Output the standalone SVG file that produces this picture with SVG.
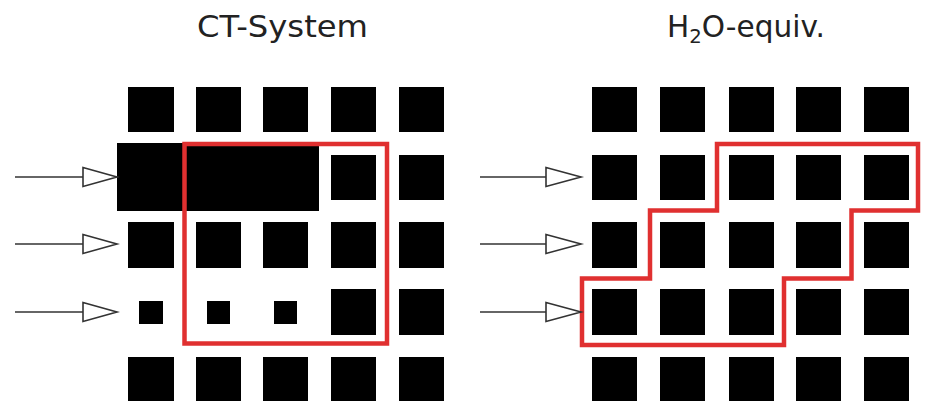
<svg xmlns="http://www.w3.org/2000/svg" width="926" height="401" viewBox="0 0 926 401">
<style>
.t{font-family:"DejaVu Sans","Liberation Sans",sans-serif;font-size:30px;fill:#222}
.b{fill:#000}
.red{fill:none;stroke:#e03030;stroke-width:4.5}
.ln{stroke:#333;stroke-width:1.6;fill:none}
.ah{fill:#fff;stroke:#333;stroke-width:1.6;stroke-linejoin:miter}
</style>
<rect width="926" height="401" fill="#fff"/>
<g id="title-ct"><text class="t" x="197" y="37" textLength="171" lengthAdjust="spacingAndGlyphs">CT-System</text></g>
<g id="title-h2o"><text class="t" x="667" y="37" textLength="158" lengthAdjust="spacingAndGlyphs">H<tspan font-size="20" dy="6">2</tspan><tspan dy="-6">O-equiv.</tspan></text></g>
<g id="ct-grid">
<rect class="b" x="128" y="87" width="46" height="45"/><rect class="b" x="196" y="87" width="45" height="45"/><rect class="b" x="263" y="87" width="45" height="45"/><rect class="b" x="331" y="87" width="45" height="45"/><rect class="b" x="399" y="87" width="45" height="45"/>
<rect class="b" x="117" y="143" width="202" height="68"/><rect class="b" x="331" y="155" width="45" height="45"/><rect class="b" x="399" y="155" width="45" height="45"/>
<rect class="b" x="128" y="222" width="46" height="46"/><rect class="b" x="196" y="222" width="45" height="46"/><rect class="b" x="263" y="222" width="45" height="46"/><rect class="b" x="331" y="222" width="45" height="46"/><rect class="b" x="399" y="222" width="45" height="46"/>
<rect class="b" x="139" y="301" width="24" height="23"/><rect class="b" x="207" y="301" width="23" height="23"/><rect class="b" x="274" y="301" width="23" height="23"/><rect class="b" x="331" y="289" width="45" height="46"/><rect class="b" x="399" y="289" width="45" height="46"/>
<rect class="b" x="128" y="357" width="46" height="50"/><rect class="b" x="196" y="357" width="45" height="50"/><rect class="b" x="263" y="357" width="45" height="50"/><rect class="b" x="331" y="357" width="45" height="50"/><rect class="b" x="399" y="357" width="45" height="50"/>
</g>
<g id="ct-region"><rect class="red" x="184.5" y="144" width="202.5" height="199.5"/></g>
<g id="h2o-grid">
<rect class="b" x="592" y="87" width="45" height="45"/><rect class="b" x="660" y="87" width="45" height="45"/><rect class="b" x="729" y="87" width="45" height="45"/><rect class="b" x="796" y="87" width="45" height="45"/><rect class="b" x="864" y="87" width="45" height="45"/>
<rect class="b" x="592" y="155" width="45" height="45"/><rect class="b" x="660" y="155" width="45" height="45"/><rect class="b" x="729" y="155" width="45" height="45"/><rect class="b" x="796" y="155" width="45" height="45"/><rect class="b" x="864" y="155" width="45" height="45"/>
<rect class="b" x="592" y="222" width="45" height="46"/><rect class="b" x="660" y="222" width="45" height="46"/><rect class="b" x="729" y="222" width="45" height="46"/><rect class="b" x="796" y="222" width="45" height="46"/><rect class="b" x="864" y="222" width="45" height="46"/>
<rect class="b" x="592" y="289" width="45" height="46"/><rect class="b" x="660" y="289" width="45" height="46"/><rect class="b" x="729" y="289" width="45" height="46"/><rect class="b" x="796" y="289" width="45" height="46"/><rect class="b" x="864" y="289" width="45" height="46"/>
<rect class="b" x="592" y="357" width="45" height="50"/><rect class="b" x="660" y="357" width="45" height="50"/><rect class="b" x="729" y="357" width="45" height="50"/><rect class="b" x="796" y="357" width="45" height="50"/><rect class="b" x="864" y="357" width="45" height="50"/>
</g>
<g id="h2o-region"><path class="red" d="M717,144 H918 V210.5 H851.5 V278.5 H784 V345 H582 V278.5 H650 V210.5 H717 Z"/></g>
<g id="connectors">
<line class="ln" x1="15" y1="177" x2="83" y2="177"/><polygon class="ah" points="83,167.5 117,177 83,186.5"/>
<line class="ln" x1="15" y1="244" x2="83" y2="244"/><polygon class="ah" points="83,234.5 117,244 83,253.5"/>
<line class="ln" x1="15" y1="312" x2="83" y2="312"/><polygon class="ah" points="83,302.5 117,312 83,321.5"/>
<line class="ln" x1="480" y1="177" x2="546" y2="177"/><polygon class="ah" points="546,167.5 581,177 546,186.5"/>
<line class="ln" x1="480" y1="244" x2="546" y2="244"/><polygon class="ah" points="546,234.5 581,244 546,253.5"/>
<line class="ln" x1="480" y1="312" x2="546" y2="312"/><polygon class="ah" points="546,302.5 581,312 546,321.5"/>
</g>
</svg>
